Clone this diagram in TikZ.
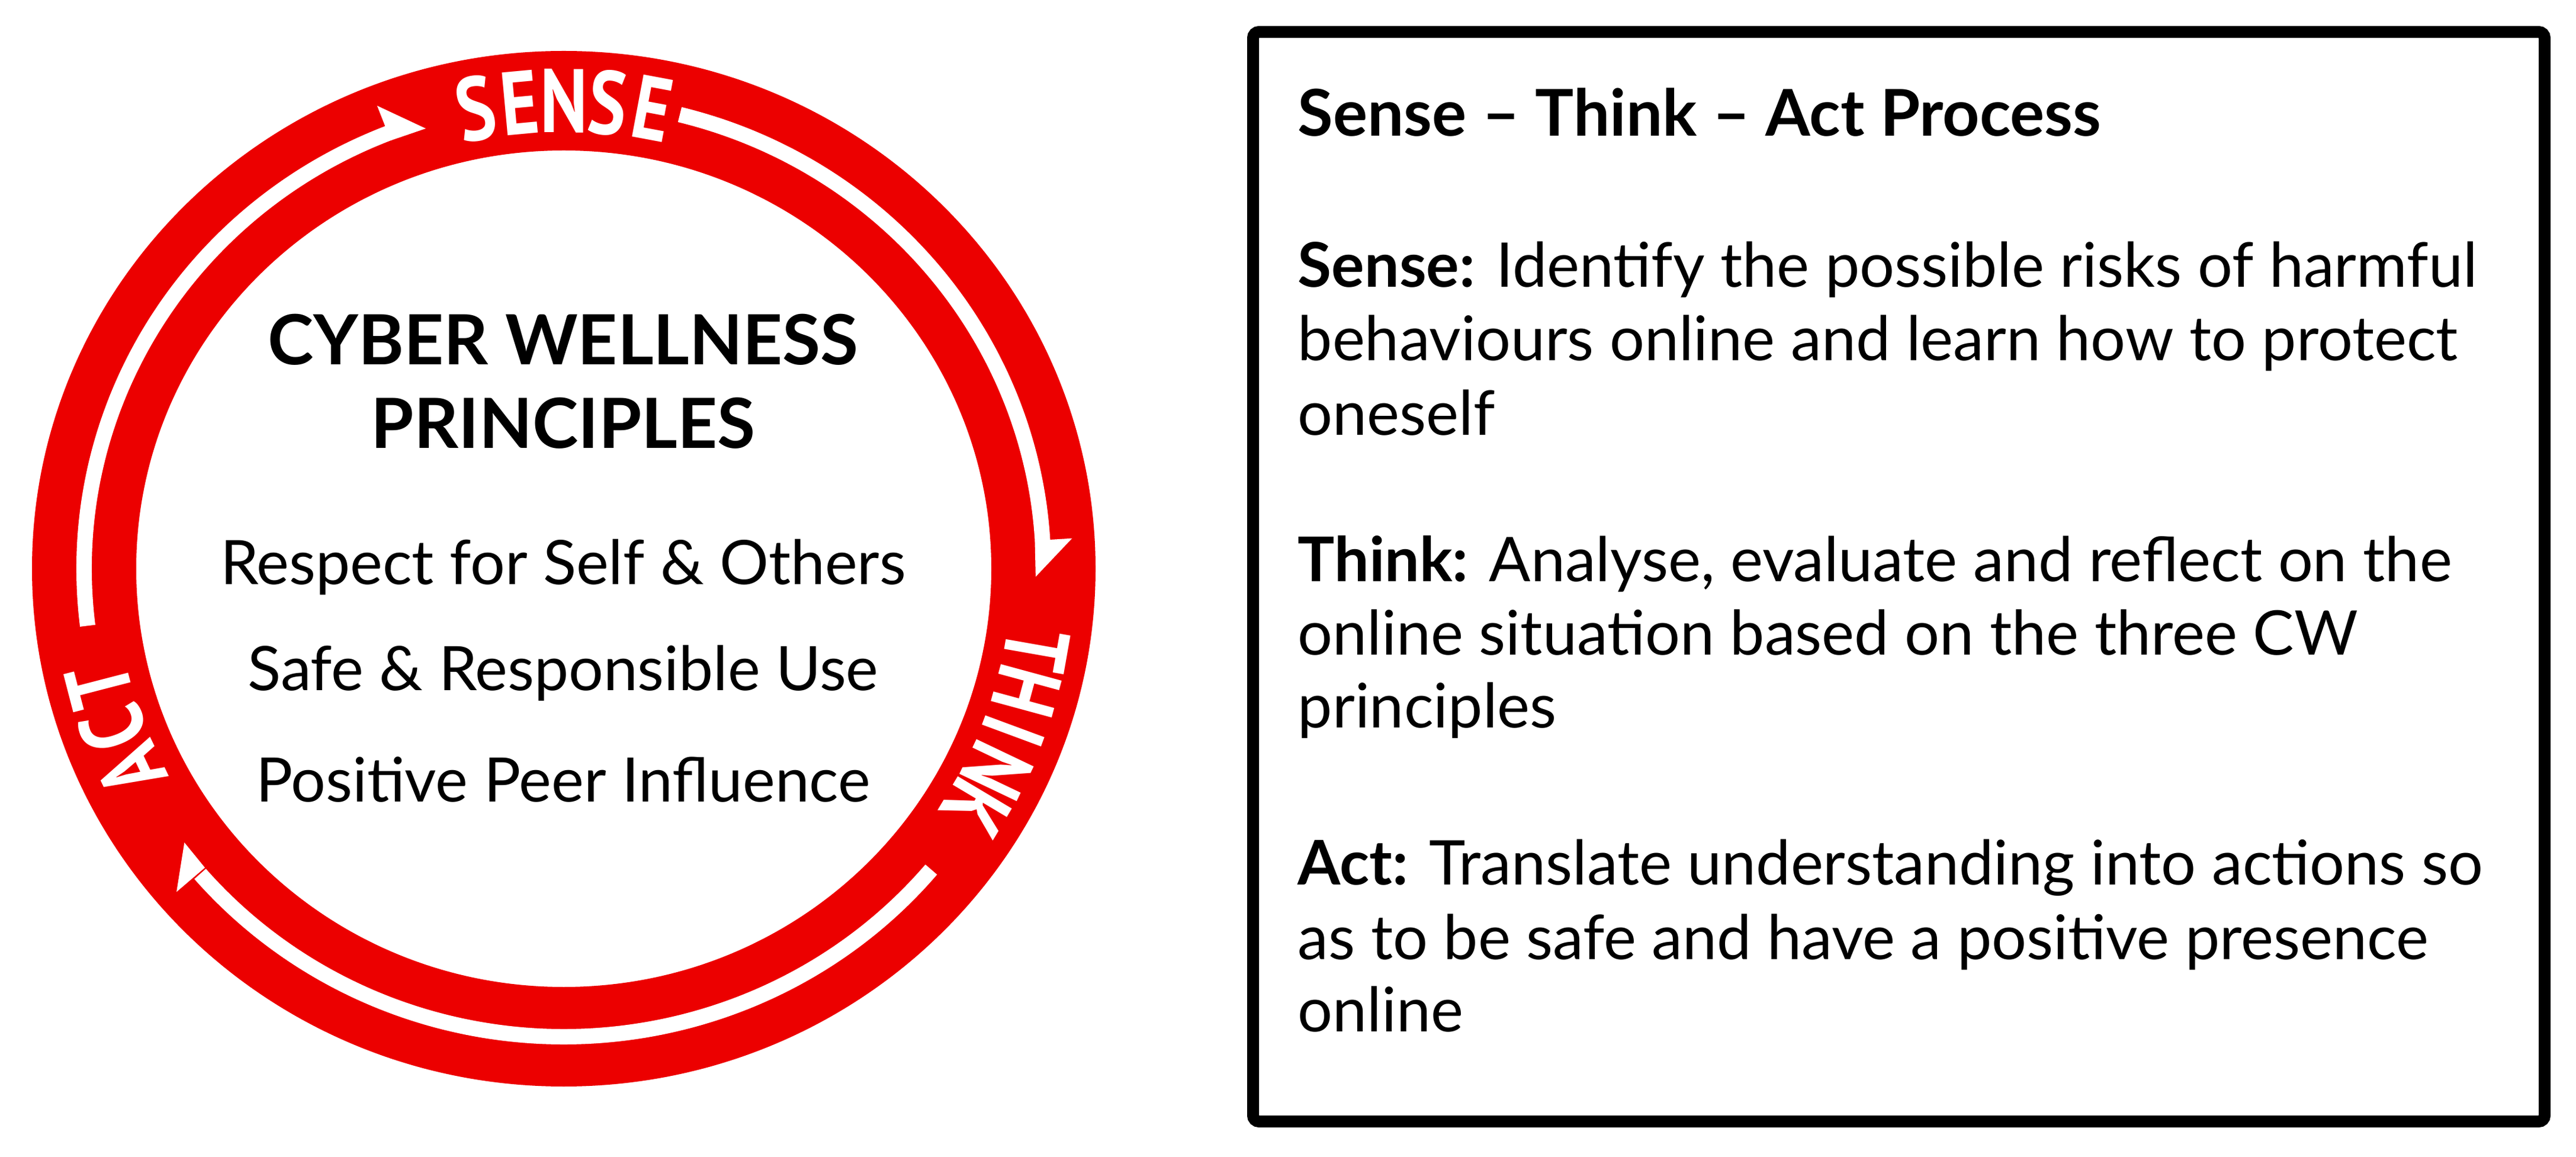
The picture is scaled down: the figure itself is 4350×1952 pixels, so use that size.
\documentclass[tikz,border=0pt]{standalone}
\usepackage{fontspec}
\setmainfont{Lato}
\newfontfamily\ringfont[FakeStretch=0.8]{PT Sans}
\definecolor{ringred}{RGB}{236,0,0}
\begin{document}
\begin{tikzpicture}[x=0.25pt,y=0.25pt,
  stripe/.style={white, line width=6.5pt},
  barb/.style={fill=white},
  ringletter/.style={text=white, inner sep=0pt, anchor=center, font=\ringfont\bfseries\fontsize{38pt}{38pt}\selectfont},
  centertitle/.style={font=\fontsize{29.2pt}{35pt}\selectfont\bfseries, anchor=base, inner sep=0pt},
  centerbody/.style={font=\fontsize{25.9pt}{31pt}\selectfont, anchor=base, inner sep=0pt},
  boxtitle/.style={font=\fontsize{27.2pt}{33pt}\selectfont\bfseries, anchor=base west, inner sep=0pt},
  boxline/.style={font=\fontsize{26pt}{31pt}\selectfont, anchor=base west, inner sep=0pt},
  framebox/.style={draw=black, line width=5pt, rounded corners=2.5pt, inner sep=0pt}
]
\useasboundingbox (0,0) rectangle (4350,1952);
\coordinate (C) at (952,992);
% ring
\fill[ringred, even odd rule] (C) ellipse [x radius=898, y radius=874] (C) ellipse [x radius=722, y radius=706];
\begin{scope}[shift={(C)}]
  % arc 1 : ACT -> SENSE
  \draw[stripe] (187:810 and 790) arc[start angle=187, end angle=111.3, x radius=810, y radius=790];
  \fill[barb] (107:797 and 777) -- (111.5:797 and 777) -- (111.5:860 and 840) -- cycle;
  % arc 2 : SENSE -> THINK
  \draw[stripe] (76:810 and 790) arc[start angle=76, end angle=3.3, x radius=810, y radius=790];
  \fill[barb] (-1:797 and 777) -- (3.5:797 and 777) -- (3.5:860 and 840) -- cycle;
  % arc 3 : THINK -> ACT
  \draw[stripe] (-40:810 and 790) arc[start angle=-40, end angle=-139.3, x radius=810, y radius=790];
  \fill[barb] (-143.5:797 and 777) -- (-139.5:797 and 777) -- (-139.5:860 and 840) -- cycle;
  % ring words, letter by letter
  \foreach \ch/\t [count=\i] in {S/100.6, E/95.3, N/90, S/84.7, E/79.4}
    \node[ringletter, rotate=\t-90] (sense\i) at (\t:810 and 790) {\ch};
  \foreach \ch/\t [count=\i] in {T/-10, H/-15.2, I/-20.3, N/-25.5, K/-30.8}
    \node[ringletter, rotate=\t-90] (think\i) at (\t:810 and 790) {\ch};
  \foreach \ch/\t [count=\i] in {A/205.5, C/200, T/194.5}
    \node[ringletter, rotate=\t-90] (act\i) at (\t:810 and 790) {\ch};
\end{scope}
% centre text
\node[centertitle] (t1) at (951,1336) {CYBER WELLNESS};
\node[centertitle] (t2) at (951,1195) {PRINCIPLES};
\node[centerbody] (p1) at (951,965) {Respect for Self \& Others};
\node[centerbody] (p2) at (951,787) {Safe \& Responsible Use};
\node[centerbody] (p3) at (951,599) {Positive Peer Influence};
% box
\node[framebox, minimum width=545.25pt, minimum height=459.75pt] (box) at (3206.5,978.5) {};
\node[boxtitle] (bt) at (2191,1722) {Sense – Think – Act Process};
\node[boxline] (s1) at (2191,1467) {\textbf{Sense:} Identify the possible risks of harmful};
\node[boxline] (s2) at (2191,1343) {behaviours online and learn how to protect};
\node[boxline] (s3) at (2191,1217) {oneself};
\node[boxline] (k1) at (2191,970) {\textbf{Think:} Analyse, evaluate and reflect on the};
\node[boxline] (k2) at (2191,846) {online situation based on the three CW};
\node[boxline] (k3) at (2191,724) {principles};
\node[boxline] (a1) at (2191,459) {\textbf{Act:} Translate understanding into actions so};
\node[boxline] (a2) at (2191,333) {as to be safe and have a positive presence};
\node[boxline] (a3) at (2191,211) {online};
\end{tikzpicture}
\end{document}
